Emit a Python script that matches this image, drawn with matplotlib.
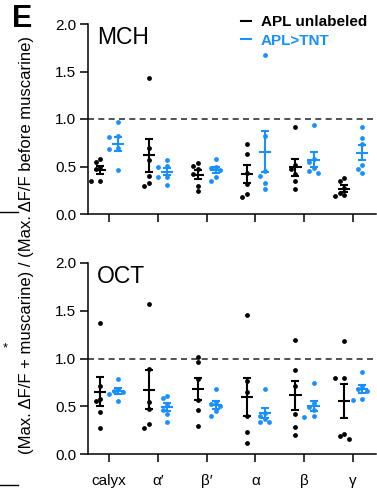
import numpy as np
import matplotlib
matplotlib.use("Agg")
import matplotlib.pyplot as plt
from matplotlib.lines import Line2D

plt.rcParams['font.family'] = ['Liberation Sans', 'DejaVu Sans']

categories = ['calyx', 'α′', 'β′', 'α', 'β', 'γ']
groups = ['APL unlabeled', 'APL>TNT']

# MCH panel values (ratio)
mch_unlabeled = [
    [0.55, 0.58, 0.49, 0.47, 0.35, 0.35],
    [1.43, 0.69, 0.57, 0.40, 0.30, 0.33],
    [0.51, 0.54, 0.47, 0.42, 0.30, 0.24],
    [0.74, 0.63, 0.43, 0.32, 0.21, 0.18],
    [0.92, 0.52, 0.47, 0.42, 0.35, 0.26],
    [0.38, 0.35, 0.27, 0.22, 0.20, 0.19],
]
mch_tnt = [
    [0.97, 0.82, 0.81, 0.69, 0.68, 0.46],
    [0.57, 0.51, 0.50, 0.39, 0.39, 0.31],
    [0.58, 0.50, 0.48, 0.46, 0.39, 0.35],
    [1.67, 0.82, 0.45, 0.40, 0.33, 0.26],
    [0.94, 0.58, 0.55, 0.48, 0.45, 0.43],
    [0.92, 0.80, 0.74, 0.52, 0.47, 0.43],
]
# OCT panel values (ratio)
oct_unlabeled = [
    [1.37, 0.71, 0.58, 0.55, 0.44, 0.27],
    [1.57, 0.89, 0.54, 0.47, 0.31, 0.27],
    [1.02, 0.96, 0.79, 0.57, 0.46, 0.29],
    [1.46, 0.76, 0.65, 0.40, 0.23, 0.11],
    [1.19, 0.88, 0.71, 0.42, 0.28, 0.20],
    [1.18, 0.80, 0.80, 0.21, 0.19, 0.16],
]
oct_tnt = [
    [0.79, 0.68, 0.66, 0.65, 0.63, 0.55],
    [0.61, 0.59, 0.51, 0.46, 0.42, 0.34],
    [0.68, 0.54, 0.52, 0.50, 0.45, 0.40],
    [0.68, 0.43, 0.40, 0.37, 0.34, 0.33],
    [0.74, 0.53, 0.49, 0.46, 0.40, 0.39],
    [0.86, 0.71, 0.68, 0.66, 0.58, 0.57],
]
panels = ['MCH', 'OCT']
yticks = [0.0, 0.5, 1.0, 1.5, 2.0]

BLACK = '#000000'
BLUE = '#1a8fff'
colors = [BLACK, BLUE]
group_offset = [-0.18, 0.19]

W, H = 377, 492
fig = plt.figure(figsize=(W / 100, H / 100), dpi=100)
left_px, right_px = 88, 376
ax1 = fig.add_axes([left_px / W, 1 - 214 / H, (right_px - left_px) / W, 190 / H])
ax2 = fig.add_axes([left_px / W, 1 - 454 / H, (right_px - left_px) / W, 191 / H])
xlim = (-0.43, 5.47)
ylim = (0, 2.0)
px_per_x = (right_px - left_px) / (xlim[1] - xlim[0])
px_per_y = 190 / 2.0


def swarm(vals, d=4.8):
    """Deterministic beeswarm offsets (data x units)."""
    order = np.argsort(vals)[::-1]
    placed = []
    offs = np.zeros(len(vals))
    for i in order:
        y = vals[i] * px_per_y
        cands = [0.0]
        for j in range(1, 6):
            cands += [-j * d * 0.95, j * d * 0.95]
        for c in cands:
            ok = True
            for (px, py) in placed:
                if (px - c) ** 2 + (py - y) ** 2 < d * d:
                    ok = False
                    break
            if ok:
                offs[i] = c
                placed.append((c, y))
                break
    return offs / px_per_x


def draw_panel(ax, data_sets, title):
    for g, data in enumerate(data_sets):
        for ci, vals in enumerate(data):
            vals = np.asarray(vals)
            xc = ci + group_offset[g]
            offs = swarm(vals)
            ax.scatter(xc + offs, vals, s=12, color=colors[g], linewidths=0, zorder=2)
            m = vals.mean()
            sem = vals.std(ddof=1) / np.sqrt(len(vals))
            ax.errorbar([xc], [m], yerr=[sem], fmt='none', ecolor=colors[g],
                        elinewidth=1.5, capsize=2.8, capthick=1.5, zorder=3)
            ax.plot([xc - 0.125, xc + 0.125], [m, m], color=colors[g], lw=1.5,
                    solid_capstyle='butt', zorder=3)
    ax.axhline(1.0, color='#333333', lw=1.2, dashes=(3.6, 2.6), zorder=1)
    ax.set_xlim(*xlim)
    ax.set_ylim(*ylim)
    ax.set_yticks(yticks)
    ax.set_yticklabels([f'{t:.1f}' for t in yticks])
    ax.set_xticks(range(len(categories)))
    for s in ['top', 'right']:
        ax.spines[s].set_visible(False)
    for s in ['left', 'bottom']:
        ax.spines[s].set_linewidth(1.1)
    ax.tick_params(axis='both', length=5.5, width=1.1, labelsize=11, pad=3)
    ax.text(0.03, 0.99, title, transform=ax.transAxes, fontsize=16.5,
            ha='left', va='top')


draw_panel(ax1, [mch_unlabeled, mch_tnt], panels[0])
draw_panel(ax2, [oct_unlabeled, oct_tnt], panels[1])
ax1.set_xticklabels([])
ax2.set_xticklabels(categories, fontsize=11)
ax2.tick_params(axis='x', pad=9)

handles = [Line2D([], [], color=c, lw=1.5) for c in colors]
leg = fig.legend(handles, groups, loc='upper left', bbox_to_anchor=(241 / W, 1 - 15 / H),
                 frameon=False, handlelength=0.65, handletextpad=0.65,
                 labelspacing=0.3, borderaxespad=0, borderpad=0,
                 prop={'weight': 'bold', 'size': 11})
for t, c in zip(leg.get_texts(), colors):
    t.set_color(c)

fig.text(27 / W, 1 - 245 / H,
         '(Max. ΔF/F + muscarine) / (Max. ΔF/F before muscarine)',
         rotation=90, ha='center', va='center', fontsize=12)
fig.text(12 / W, 1 - 4 / H, 'E', fontsize=22, fontweight='bold', ha='left', va='top')

# fragments of the neighbouring panel at the left edge
for yy in (212, 485):
    fig.add_artist(Line2D([0, 18 / W], [1 - yy / H, 1 - yy / H], color='black',
                          lw=1.0, transform=fig.transFigure))
fig.text(5 / W, 1 - 348 / H, '*', fontsize=9, ha='center', va='center')

fig.savefig('out.png', dpi=100)
